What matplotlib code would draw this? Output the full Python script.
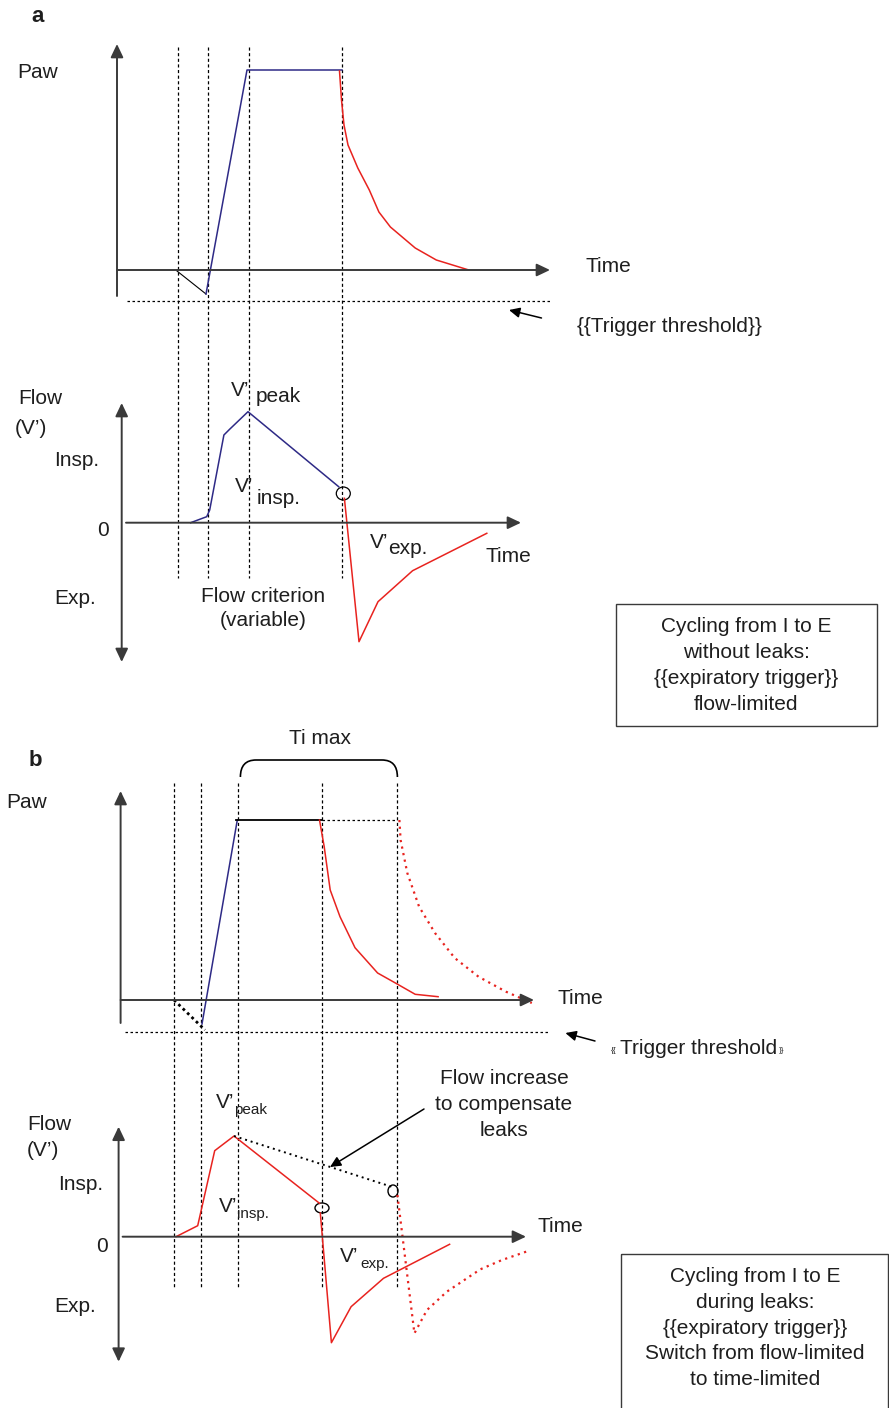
import matplotlib.pyplot as plt
from matplotlib.patches import Ellipse, Rectangle, PathPatch
from matplotlib.path import Path

plt.rcParams['font.family'] = ['Liberation Sans', 'DejaVu Sans']

BLUE = '#2e2a86'
RED = '#e8231f'
AXIS = '#3a3a3a'
INK = '#1e1e1e'

# ---------------- panel a : pressure (diagram coords, y grows downward)
a_guides_x = [178, 208, 249, 342]
a_trig_x = [177, 206]
a_trig_y = [271, 294]
a_rise_x = [206, 247, 342]
a_rise_y = [294, 70, 70]
a_decay_x = [339.5, 341.5, 344, 348, 357.8, 369.3, 378.9, 390.4, 415.2, 436.3, 468.8]
a_decay_y = [71, 100, 125, 145, 168, 190, 212, 227, 248, 260, 270]

# panel a : flow
a_insp_x = [190.6, 206.7, 209.7, 223.9, 229.6, 248, 338.7]
a_insp_y = [522.7, 516.7, 510, 435, 429.3, 411.7, 486.7]
a_exp_x = [344.4, 359, 378, 412.6, 486.8]
a_exp_y = [498.3, 641.7, 601.7, 570.7, 533.3]
a_cycle = (343.3, 493.5)

# ---------------- panel b : pressure
b_guides_x = [174, 201, 238.4, 322.3, 396.6]
b_trig_x = [174, 205]
b_trig_y = [1000, 1030]
b_rise_x = [202, 237.3]
b_rise_y = [1024, 820]
b_plat_x = [236, 322.3]
b_plat_ext_x = [322.3, 397.4]
b_plat_y = 820
b_decay_x = [319.5, 324.2, 330.2, 340, 355, 377.6, 395.4, 415.2, 438.1]
b_decay_y = [820, 846.7, 890, 916.7, 947.7, 973, 983, 994.3, 996.7]
b_decay_late_x = [399.4, 400.6, 407.3, 419.1, 435, 454.7, 478.5, 506, 531.8]
b_decay_late_y = [820, 840, 873, 906.7, 933, 958, 976.7, 991.7, 1003]

# panel b : flow
b_insp_x = [176, 197.7, 214.7, 234, 319.5]
b_insp_y = [1236.7, 1225.7, 1150.7, 1136, 1203.3]
b_exp_x = [320.3, 331.4, 351.1, 383.5, 449.6]
b_exp_y = [1213, 1342.7, 1306.7, 1278.3, 1244.3]
b_leak_x = [234, 391.5]
b_leak_y = [1136, 1186.7]
b_exp_late_x = [397.4, 414.4, 427, 446.8, 480.4, 502, 529]
b_exp_late_y = [1195, 1333.3, 1310, 1291.7, 1269.3, 1260, 1250.7]
b_cycles = [(322, 1208), (393, 1191)]
b_cycle_w = [14, 10]
b_cycle_h = [10, 12]

box_a_lines = ['Cycling from I to E', 'without leaks:', '{{expiratory trigger}}', 'flow-limited']
box_b_lines = ['Cycling from I to E', 'during leaks:', '{{expiratory trigger}}',
               'Switch from flow-limited', 'to time-limited']

fig = plt.figure(figsize=(8.89, 14.08), dpi=100)
ax = fig.add_axes([0, 0, 1, 1])
ax.set_xlim(0, 889)
ax.set_ylim(1408, 0)
ax.axis('off')

FS = 15
GUIDE = dict(color='black', lw=0.9, linestyle=(0, (2.5, 2)))


def arrow(tail, tip, both=False, lw=1.4, color=AXIS, scale=20):
    style = '<|-|>' if both else '-|>'
    ax.annotate('', xy=tip, xytext=tail,
                arrowprops=dict(arrowstyle=style + ',head_length=0.4,head_width=0.19',
                                color=color, lw=lw, shrinkA=0, shrinkB=0,
                                mutation_scale=scale))


def txt(x, y, s, size=FS, ha='center', **kw):
    ax.text(x, y, s, fontsize=size, ha=ha, va='center', color=INK, **kw)


# ================= panel a =================
for gx in a_guides_x:
    ax.plot([gx, gx], [47, 578], **GUIDE)
ax.plot([127, 551], [301, 301], color='black', lw=0.9, linestyle=(0, (2, 2)))

arrow((117, 296), (117, 44))
arrow((117, 270), (550, 270))
arrow((121.7, 662), (121.7, 403), both=True)
arrow((126, 522.7), (521, 522.7))

ax.plot(a_trig_x, a_trig_y, color='black', lw=0.8)
ax.plot(a_rise_x, a_rise_y, color=BLUE, lw=1.1)
ax.plot(a_decay_x, a_decay_y, color=RED, lw=1.1)
ax.plot(a_insp_x, a_insp_y, color=BLUE, lw=1.1)
ax.plot(a_exp_x, a_exp_y, color=RED, lw=1.1)
ax.add_patch(Ellipse(a_cycle, 14, 13, fill=False, ec='black', lw=0.9))

arrow((541.5, 318), (509, 310), lw=1.1, color='black', scale=16)

txt(38, 17, 'a', size=16, fontweight='bold')
txt(38, 73, 'Paw')
txt(585, 266, 'Time', ha='left')
txt(577, 326, '{{Trigger threshold}}', ha='left')
txt(18, 398, 'Flow', ha='left')
txt(15, 428, '(V’)', ha='left')
txt(54, 461, 'Insp.', ha='left')
txt(103, 531, '0')
txt(54, 598, 'Exp.', ha='left')
txt(240, 390, 'V’')
txt(256, 397, 'peak', ha='left')
txt(244, 487, 'V’')
txt(257, 499, 'insp.', ha='left')
txt(379, 543, 'V’')
txt(388, 549, 'exp.', ha='left')
txt(486, 557, 'Time', ha='left')
txt(263, 596, 'Flow criterion')
txt(263, 621, '(variable)')

ax.add_patch(Rectangle((616, 604), 261, 122, fill=False, ec=AXIS, lw=1.0))
for i, line in enumerate(box_a_lines):
    txt(746.5, 627 + i * 25.7, line)

# ================= panel b =================
for gx in b_guides_x:
    ax.plot([gx, gx], [783, 1287], **GUIDE)
ax.plot([124.6, 547.6], [1031.7, 1031.7], color='black', lw=0.9, linestyle=(0, (2, 2)))

arrow((120.6, 1023), (120.6, 791))
arrow((120.6, 1000), (534, 1000))
arrow((118.6, 1361.7), (118.6, 1126.7), both=True)
arrow((122.6, 1236.7), (526, 1236.7))

ax.plot(b_trig_x, b_trig_y, color='black', lw=2.0, linestyle=(0, (1, 1.2)))
ax.plot(b_rise_x, b_rise_y, color=BLUE, lw=1.1)
ax.plot(b_plat_x, [b_plat_y, b_plat_y], color='black', lw=1.3)
ax.plot(b_plat_ext_x, [b_plat_y, b_plat_y], color='black', lw=0.9, linestyle=(0, (2, 2)))
ax.plot(b_decay_x, b_decay_y, color=RED, lw=1.1)
ax.plot(b_decay_late_x, b_decay_late_y, color=RED, lw=1.6, linestyle=(0, (1, 2)))

ax.plot(b_insp_x, b_insp_y, color=RED, lw=1.1)
ax.plot(b_exp_x, b_exp_y, color=RED, lw=1.1)
ax.plot(b_leak_x, b_leak_y, color='black', lw=1.4, linestyle=(0, (1, 2)))
ax.plot(b_exp_late_x, b_exp_late_y, color=RED, lw=1.6, linestyle=(0, (1, 2)))
for c, w, h in zip(b_cycles, b_cycle_w, b_cycle_h):
    ax.add_patch(Ellipse(c, w, h, fill=False, ec='black', lw=1.0))

# Ti max brace
brace = Path([(240.4, 777), (240.4, 760), (256, 760), (382, 760),
              (397.4, 760), (397.4, 777)],
             [Path.MOVETO, Path.CURVE3, Path.CURVE3, Path.LINETO,
              Path.CURVE3, Path.CURVE3])
ax.add_patch(PathPatch(brace, fill=False, ec='black', lw=1.2))

arrow((595, 1041), (565.4, 1033), lw=1.1, color='black', scale=16)
arrow((424, 1109), (330, 1167), lw=1.1, color='black', scale=16)

txt(35, 760, 'b', size=16, fontweight='bold')
txt(320, 739, 'Ti max')
txt(27, 803, 'Paw')
txt(557, 998, 'Time', ha='left')
txt(611, 1051, '{{', size=6, ha='left')
txt(620, 1048, 'Trigger threshold', ha='left')
txt(779, 1051, '}}', size=6, ha='left')
txt(225, 1103, 'V’')
txt(234, 1110, 'peak', size=11, ha='left')
txt(27, 1125, 'Flow', ha='left')
txt(27, 1151, '(V’)', ha='left')
txt(58, 1184, 'Insp.', ha='left')
txt(102, 1247, '0')
txt(54, 1307, 'Exp.', ha='left')
txt(537, 1226, 'Time', ha='left')
txt(504, 1078, 'Flow increase')
txt(504, 1104, 'to compensate')
txt(504, 1130, 'leaks')
txt(228, 1207, 'V’')
txt(237, 1214, 'insp.', size=11, ha='left')
txt(349, 1257, 'V’')
txt(360, 1264, 'exp.', size=11, ha='left')

ax.add_patch(Rectangle((621, 1254), 266.5, 160, fill=False, ec=AXIS, lw=1.0))
for i, line in enumerate(box_b_lines):
    txt(755, 1277 + i * 25.6, line)

fig.savefig('out.png', dpi=100)
